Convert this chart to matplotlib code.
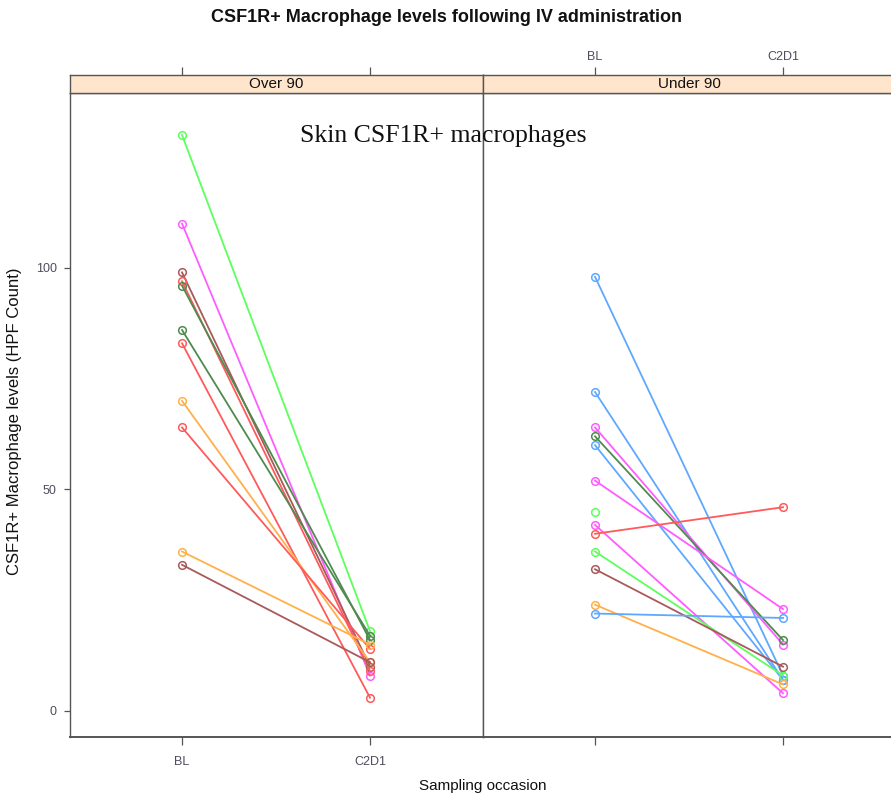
import matplotlib
matplotlib.use('Agg')
import matplotlib.pyplot as plt
import numpy as np

plt.rcParams['font.family'] = ['Liberation Sans', 'DejaVu Sans']

occasions = ['BL', 'C2D1']
panels = ['Over 90', 'Under 90']

over90_bl = [130, 110, 99, 97, 96, 86, 83, 70, 64, 36, 33]
over90_c2d1 = [18, 8, 10, 9, 16, 17, 3, 11, 14, 15, 11]
over90_colors = ['green', 'magenta', 'brown', 'red', 'darkgreen', 'darkgreen',
                 'red', 'orange', 'red', 'orange', 'brown']

under90_bl = [98, 72, 64, 62, 60, 52, 45, 42, 40, 36, 32, 24, 22]
under90_c2d1 = [8, 7, 15, 16, 7, 23, np.nan, 4, 46, 8, 10, 6, 21]
under90_colors = ['blue', 'blue', 'magenta', 'darkgreen', 'blue', 'magenta', 'green',
                  'magenta', 'red', 'green', 'brown', 'orange', 'blue']

palette = {
    'blue': '#5fa8ff',
    'magenta': '#ff5cff',
    'darkgreen': '#4f8a4f',
    'red': '#ff5a5a',
    'orange': '#ffb04a',
    'green': '#5cff5c',
    'brown': '#a85a5a',
}

W, H = 891, 796
fig = plt.figure(figsize=(W / 100, H / 100), dpi=100)

panel_left = [70, 483]
panel_w = 413
panel_top, panel_bot = 93, 737
strip_top = 75

frame_col = '#555555'
tick_col = '#4d4d5e'

data = [(over90_bl, over90_c2d1, over90_colors), (under90_bl, under90_c2d1, under90_colors)]

for i, (name, (bl, c2, cols)) in enumerate(zip(panels, data)):
    ax = fig.add_axes([panel_left[i] / W, (H - panel_bot) / H, panel_w / W,
                       (panel_bot - panel_top) / H])
    for b, c, col in zip(bl, c2, cols):
        ax.plot(occasions, [b, c], '-o', color=palette[col], lw=1.3,
                ms=5.5, mfc='none', mew=1.1, mec=palette[col])
    ax.set_xlim(-0.596, 1.601)
    ax.set_ylim(-5.87, 139.5)
    ax.set_yticks([0, 50, 100])
    for s in ax.spines.values():
        s.set_color(frame_col)
        s.set_linewidth(1.0)
    ax.spines['bottom'].set_linewidth(1.4)
    ax.tick_params(axis='x', direction='out', length=6, width=0.9, color=frame_col,
                   labelcolor=tick_col, labelsize=9, pad=8,
                   labelbottom=(i == 0))
    ax.tick_params(axis='y', direction='out', length=4.5, width=0.9, color=frame_col,
                   labelcolor=tick_col, labelsize=9, pad=5,
                   left=(i == 0), labelleft=(i == 0))

    sax = fig.add_axes([panel_left[i] / W, (H - panel_top) / H, panel_w / W,
                        (panel_top - strip_top) / H], sharex=ax)
    sax.set_facecolor('#ffe5cc')
    sax.set_yticks([])
    for s in sax.spines.values():
        s.set_color(frame_col)
        s.set_linewidth(1.0)
    sax.tick_params(axis='x', direction='out', length=6, width=0.9, color=frame_col,
                    labelcolor=tick_col, labelsize=9, pad=3,
                    bottom=False, labelbottom=False, top=True, labeltop=(i == 1))
    sax.text(0.5, 0.5, name, transform=sax.transAxes, ha='center', va='center',
             fontsize=11, color='#111111')

fig.text(446 / W, 1 - 17 / H, 'CSF1R+ Macrophage levels following IV administration',
         ha='center', va='center', fontsize=13, fontweight='bold', color='#111111')
fig.text(15 / W, 1 - 421 / H, 'CSF1R+ Macrophage levels (HPF Count)',
         ha='center', va='center', rotation=90, fontsize=12, color='#111111')
fig.text(483 / W, 1 - 786 / H, 'Sampling occasion',
         ha='center', va='center', fontsize=11, color='#111111')
fig.text(443 / W, 1 - 142 / H, 'Skin CSF1R+ macrophages',
         ha='center', va='baseline', fontsize=18.5, family='Liberation Serif',
         color='#111111')

fig.savefig('out.png', dpi=100)
